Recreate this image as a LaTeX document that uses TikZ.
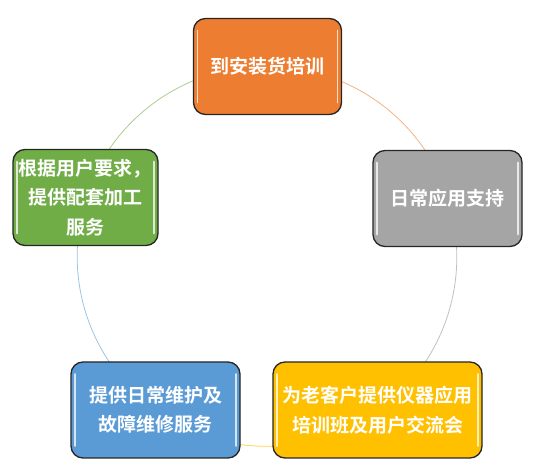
\documentclass[tikz,border=0pt]{standalone}
\usepackage{fontspec}
\setmainfont{Noto Sans CJK SC}[BoldFont={Noto Sans CJK SC Bold}]
\usetikzlibrary{backgrounds}
\definecolor{boxO}{HTML}{ED7D31}
\definecolor{boxG}{HTML}{A5A5A5}
\definecolor{boxY}{HTML}{FFC000}
\definecolor{boxB}{HTML}{5B9BD5}
\definecolor{boxL}{HTML}{70AD47}
\definecolor{rim}{HTML}{262626}
\tikzset{
 stepbox/.style={draw=rim,line width=1.3pt,rounded corners=12pt,minimum height=96pt,
  align=center,text=white,font=\fontsize{19}{29.5}\selectfont\bfseries,
  path picture={
   \draw[white,opacity=.75,line width=1.6pt,line cap=round]
    ([xshift=4pt,yshift=-12pt]path picture bounding box.north west) --
    ([xshift=4pt,yshift=12pt]path picture bounding box.south west);
   \draw[white,opacity=.75,line width=1.6pt,line cap=round]
    ([xshift=-4pt,yshift=-12pt]path picture bounding box.north east) --
    ([xshift=-4pt,yshift=12pt]path picture bounding box.south east);}},
 ring/.style={line width=0.8pt}
}
\begin{document}
\begin{tikzpicture}[x=1pt,y=1pt]
 \useasboundingbox (0,0) rectangle (536,474);
 % boxes round the circle, centre (267,218), radius 190
 \node[stepbox,fill=boxO,minimum width=148pt] (train) at (267.5,407.5) {到安装货培训};
 \node[stepbox,fill=boxG,minimum width=149pt] (daily) at (447.5,275.5) {日常应用支持};
 \node[stepbox,fill=boxY,minimum width=209pt] (club) at (377.5,64) {为老客户提供仪器应用\\培训班及用户交流会};
 \node[stepbox,fill=boxB,minimum width=169pt] (repair) at (155.5,64) {提供日常维护及\\故障维修服务};
 \node[stepbox,fill=boxL,minimum width=145pt] (custom) at (85.5,276.5) {根据用户要求，\\提供配套加工\\服务};
 \begin{scope}[on background layer]
  \draw[ring,boxO!60] (train.center) arc[start angle=90,end angle=18,radius=190];
  \draw[ring,boxG!70] (daily.center) arc[start angle=18,end angle=-54,radius=190];
  \draw[ring,boxY!70] (club.center) arc[start angle=-54,end angle=-126,radius=190];
  \draw[ring,boxB!60] (repair.center) arc[start angle=-126,end angle=-198,radius=190];
  \draw[ring,boxL!60] (custom.center) arc[start angle=162,end angle=90,radius=190];
 \end{scope}
\end{tikzpicture}
\end{document}
